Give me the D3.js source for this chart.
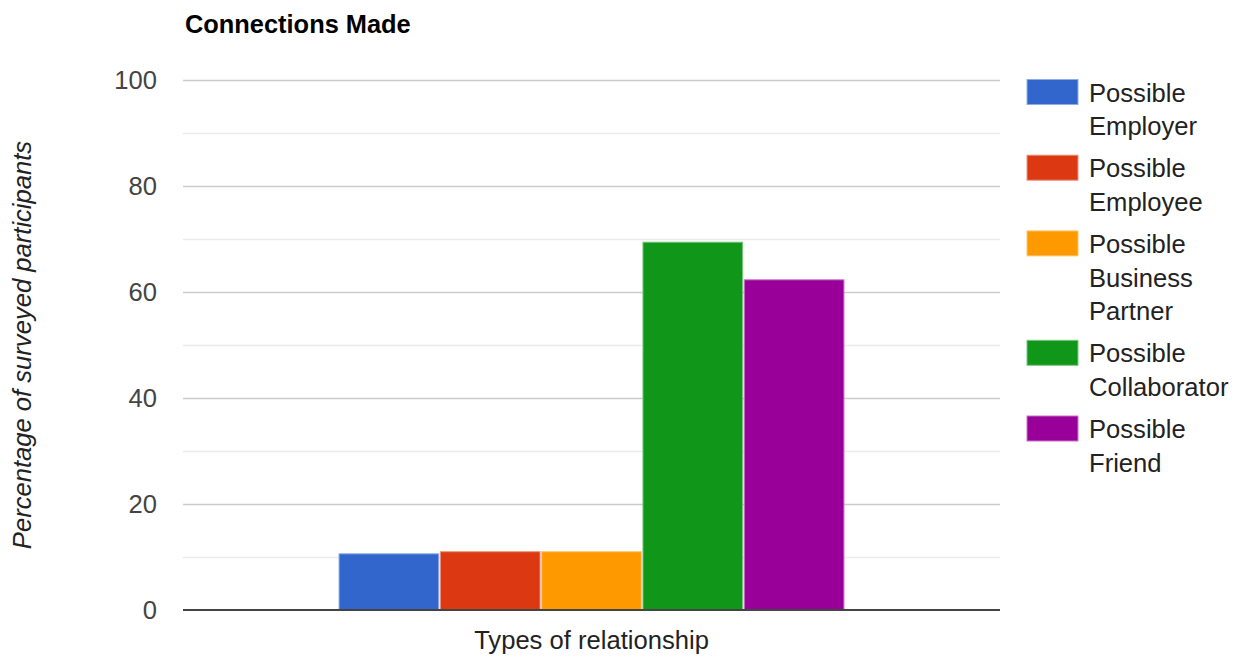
<!DOCTYPE html>
<html>
<head>
<meta charset="utf-8">
<script src="https://cdn.jsdelivr.net/npm/d3@7"></script>
<style>
  html, body { margin: 0; padding: 0; background: #fff; }
  svg { display: block; font-family: Arial, "Liberation Sans", sans-serif; }
</style>
</head>
<body>
<svg id="chart" width="1236" height="656"></svg>
<script>
// Survey results: share of participants per type of connection
const categories = ["Types of relationship"];
const seriesNames = [
  ["Possible", "Employer"],
  ["Possible", "Employee"],
  ["Possible", "Business", "Partner"],
  ["Possible", "Collaborator"],
  ["Possible", "Friend"]
];
const seriesValues = [10.6, 11.0, 11.0, 69.4, 62.3];
const seriesColors = ["#3366cc", "#dc3912", "#ff9900", "#109618", "#990099"];
const yTicks = [0, 20, 40, 60, 80, 100];
const yMinorTicks = [10, 30, 50, 70, 90];

const svg = d3.select("#chart");
const plot = { left: 183, right: 1000, top: 80, bottom: 610 };
const fontSize = 25.6;

const y = d3.scaleLinear().domain([0, 100]).range([plot.bottom, plot.top]);
const xCat = d3.scaleBand().domain(categories).range([plot.left, plot.right]);

// grouped bars occupy 61.8% of the category band
const groupW = xCat.bandwidth() * 0.618;
const cx = xCat(categories[0]) + xCat.bandwidth() / 2;
const xSeries = d3.scaleBand()
  .domain(d3.range(seriesValues.length))
  .range([cx - groupW / 2, cx + groupW / 2])
  .paddingInner(0.016);

// gridlines
svg.append("g").selectAll("line.minor")
  .data(yMinorTicks).join("line")
  .attr("x1", plot.left).attr("x2", plot.right)
  .attr("y1", d => Math.round(y(d)) + 0.5).attr("y2", d => Math.round(y(d)) + 0.5)
  .attr("stroke", "#ebebeb").attr("stroke-width", 1.5);

svg.append("g").selectAll("line.major")
  .data(yTicks.filter(d => d !== 0)).join("line")
  .attr("x1", plot.left).attr("x2", plot.right)
  .attr("y1", d => Math.round(y(d)) + 0.5).attr("y2", d => Math.round(y(d)) + 0.5)
  .attr("stroke", "#cccccc").attr("stroke-width", 1.5);

// y-axis tick labels
const yAxis = d3.axisLeft(y).tickValues(yTicks).tickSize(0).tickPadding(0)
  .tickFormat(d3.format("d"));
const gy = svg.append("g").attr("transform", `translate(${plot.left - 26},0)`).call(yAxis);
gy.select(".domain").remove();
gy.selectAll("text")
  .attr("font-size", fontSize).attr("fill", "#444").attr("font-family", "Arial, 'Liberation Sans', sans-serif");

// bars
svg.append("g").selectAll("rect")
  .data(seriesValues).join("rect")
  .attr("x", (d, i) => xSeries(i))
  .attr("width", xSeries.bandwidth())
  .attr("y", d => y(d))
  .attr("height", d => y(0) - y(d))
  .attr("fill", (d, i) => seriesColors[i])
  .attr("stroke", (d, i) => d3.interpolateRgb(seriesColors[i], "#ffffff")(0.45))
  .attr("stroke-width", 1);

// baseline
svg.append("line")
  .attr("x1", plot.left).attr("x2", plot.right)
  .attr("y1", y(0)).attr("y2", y(0))
  .attr("stroke", "#444").attr("stroke-width", 2);

// x-axis title
svg.append("text")
  .attr("x", cx).attr("y", 649)
  .attr("text-anchor", "middle")
  .attr("font-size", fontSize).attr("fill", "#222")
  .text(categories[0]);

// y-axis title
svg.append("text")
  .attr("transform", `translate(31,${(plot.top + plot.bottom) / 2}) rotate(-90)`)
  .attr("text-anchor", "middle")
  .attr("font-size", fontSize).attr("font-style", "italic").attr("fill", "#222")
  .text("Percentage of surveyed participants");

// chart title
svg.append("text")
  .attr("x", 185).attr("y", 33)
  .attr("font-size", 25.4).attr("font-weight", "bold").attr("fill", "#000")
  .text("Connections Made");

// legend
const lineH = 33.7, entryGap = 8.3;
let ly = 79.5;
const legend = svg.append("g");
seriesNames.forEach((lines, i) => {
  const g = legend.append("g").attr("transform", `translate(0,${ly})`);
  g.append("rect")
    .attr("x", 1027).attr("y", 0).attr("width", 51).attr("height", 25)
    .attr("fill", seriesColors[i])
    .attr("stroke", d3.interpolateRgb(seriesColors[i], "#ffffff")(0.45))
    .attr("stroke-width", 1);
  const t = g.append("text").attr("font-size", fontSize).attr("fill", "#222");
  lines.forEach((s, k) => {
    t.append("tspan").attr("x", 1089).attr("y", 22 + k * lineH).text(s);
  });
  ly += lines.length * lineH + entryGap;
});
</script>
</body>
</html>
